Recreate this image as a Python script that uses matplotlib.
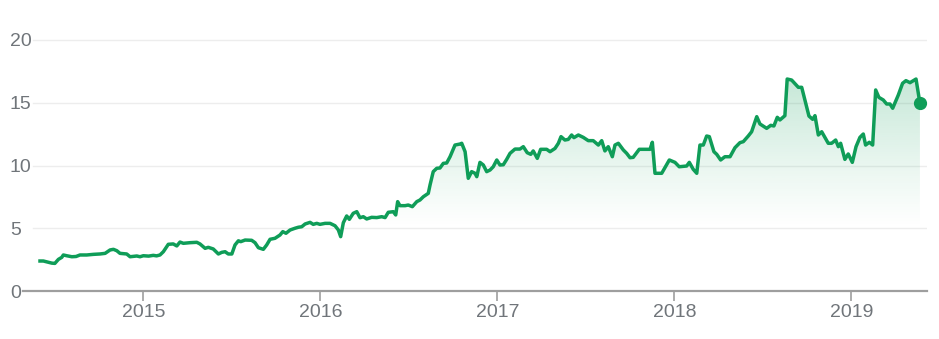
import matplotlib
matplotlib.use("Agg")
import matplotlib.pyplot as plt
import numpy as np
from matplotlib.colors import to_rgb
from matplotlib.patches import Polygon

# price history (decimal year, price)
years = [
    2014.416, 2014.435, 2014.483, 2014.500, 2014.520, 2014.539, 2014.548, 2014.567,
    2014.596, 2014.620, 2014.642, 2014.680, 2014.718, 2014.755, 2014.784, 2014.812,
    2014.831, 2014.850, 2014.868, 2014.906, 2014.925, 2014.963, 2014.981, 2015.000,
    2015.030, 2015.056, 2015.075, 2015.094, 2015.113, 2015.132, 2015.141, 2015.169,
    2015.189, 2015.207, 2015.226, 2015.264, 2015.302, 2015.320, 2015.349, 2015.367,
    2015.395, 2015.424, 2015.443, 2015.462, 2015.480, 2015.500, 2015.518, 2015.537,
    2015.550, 2015.575, 2015.612, 2015.631, 2015.650, 2015.678, 2015.697, 2015.716,
    2015.744, 2015.772, 2015.788, 2015.806, 2015.829, 2015.857, 2015.876, 2015.895,
    2015.914, 2015.942, 2015.960, 2015.980, 2015.998, 2016.027, 2016.055, 2016.083,
    2016.102, 2016.115, 2016.130, 2016.149, 2016.164, 2016.186, 2016.206, 2016.224,
    2016.243, 2016.262, 2016.290, 2016.319, 2016.347, 2016.366, 2016.384, 2016.412,
    2016.426, 2016.437, 2016.450, 2016.479, 2016.497, 2016.520, 2016.545, 2016.563,
    2016.582, 2016.610, 2016.620, 2016.638, 2016.658, 2016.676, 2016.695, 2016.714,
    2016.733, 2016.761, 2016.789, 2016.799, 2016.818, 2016.836, 2016.855, 2016.874,
    2016.884, 2016.902, 2016.921, 2016.940, 2016.959, 2016.977, 2016.997, 2017.015,
    2017.034, 2017.053, 2017.072, 2017.100, 2017.128, 2017.147, 2017.169, 2017.189,
    2017.203, 2017.226, 2017.245, 2017.279, 2017.298, 2017.326, 2017.345, 2017.360,
    2017.382, 2017.401, 2017.420, 2017.433, 2017.458, 2017.486, 2017.514, 2017.542,
    2017.571, 2017.590, 2017.608, 2017.627, 2017.650, 2017.665, 2017.684, 2017.712,
    2017.731, 2017.750, 2017.768, 2017.802, 2017.844, 2017.863, 2017.876, 2017.891,
    2017.929, 2017.972, 2018.004, 2018.028, 2018.070, 2018.085, 2018.107, 2018.127,
    2018.145, 2018.164, 2018.183, 2018.198, 2018.224, 2018.240, 2018.262, 2018.286,
    2018.315, 2018.343, 2018.371, 2018.390, 2018.418, 2018.437, 2018.466, 2018.484,
    2018.522, 2018.545, 2018.563, 2018.582, 2018.597, 2018.625, 2018.638, 2018.663,
    2018.701, 2018.720, 2018.738, 2018.761, 2018.782, 2018.795, 2018.814, 2018.833,
    2018.870, 2018.889, 2018.912, 2018.927, 2018.940, 2018.964, 2018.983, 2019.006,
    2019.027, 2019.049, 2019.068, 2019.081, 2019.102, 2019.121, 2019.138, 2019.156,
    2019.181, 2019.200, 2019.219, 2019.234, 2019.266, 2019.290, 2019.309, 2019.332,
    2019.366, 2019.388,
]
prices = [
    2.39, 2.39, 2.22, 2.20, 2.52, 2.68, 2.87, 2.81,
    2.73, 2.75, 2.87, 2.87, 2.92, 2.95, 3.00, 3.27,
    3.32, 3.21, 3.00, 2.95, 2.73, 2.79, 2.73, 2.81,
    2.78, 2.84, 2.80, 2.87, 3.13, 3.53, 3.72, 3.75,
    3.59, 3.90, 3.80, 3.85, 3.88, 3.75, 3.40, 3.48,
    3.35, 2.95, 3.08, 3.13, 2.95, 2.95, 3.67, 4.00,
    3.93, 4.06, 4.04, 3.85, 3.45, 3.32, 3.67, 4.12,
    4.20, 4.46, 4.73, 4.60, 4.86, 5.00, 5.08, 5.12,
    5.34, 5.47, 5.31, 5.39, 5.31, 5.39, 5.39, 5.20,
    4.86, 4.33, 5.44, 5.98, 5.71, 6.19, 6.32, 5.84,
    5.92, 5.74, 5.87, 5.85, 5.92, 5.85, 6.27, 6.32,
    6.06, 7.12, 6.80, 6.80, 6.85, 6.72, 7.12, 7.25,
    7.51, 7.78, 8.45, 9.51, 9.78, 9.80, 10.17, 10.20,
    10.70, 11.63, 11.71, 11.77, 11.10, 8.98, 9.51, 9.38,
    9.11, 10.25, 10.04, 9.51, 9.64, 9.90, 10.44, 10.04,
    10.06, 10.49, 10.97, 11.31, 11.31, 11.50, 11.02, 10.89,
    11.16, 10.57, 11.29, 11.29, 11.10, 11.36, 11.77, 12.30,
    12.03, 12.08, 12.43, 12.22, 12.43, 12.24, 11.98, 11.98,
    11.63, 11.98, 11.16, 11.50, 10.70, 11.63, 11.77, 11.24,
    10.97, 10.62, 10.65, 11.29, 11.29, 11.29, 11.85, 9.38,
    9.38, 10.44, 10.25, 9.90, 9.96, 10.25, 9.70, 9.38,
    11.63, 11.63, 12.35, 12.30, 11.10, 10.89, 10.44, 10.70,
    10.70, 11.42, 11.82, 11.90, 12.35, 12.69, 13.89, 13.31,
    12.96, 13.20, 13.15, 13.84, 13.63, 13.97, 16.89, 16.81,
    16.23, 16.23, 15.22, 13.94, 13.68, 13.97, 12.43, 12.69,
    11.77, 11.77, 12.03, 11.50, 11.77, 10.49, 10.92, 10.25,
    11.50, 12.24, 12.51, 11.63, 11.85, 11.63, 16.02, 15.43,
    15.22, 14.90, 14.90, 14.56, 15.62, 16.55, 16.76, 16.60,
    16.89, 14.96,
]
year_ticks = [2015, 2016, 2017, 2018, 2019]
price_ticks = [0, 5, 10, 15, 20]

GREEN = "#0f9d58"
GRID = "#ededed"
AXIS = "#9e9e9e"
LABEL = "#70757a"

plt.rcParams["font.family"] = ["Liberation Sans", "DejaVu Sans"]

fig = plt.figure(figsize=(9.39, 3.39), dpi=100)
ax = fig.add_axes([23 / 939, 48 / 339, 904 / 939, 263.55 / 339])
ax.set_xlim(2014.320, 2019.428)
ax.set_ylim(0, 21)

for v in price_ticks[1:]:
    ax.axhline(v, xmin=0.011, xmax=1, color=GRID, lw=1.0, zorder=0)

# gradient fill under the line
x = np.array(years)
y = np.array(prices)
poly = Polygon(np.column_stack([np.r_[x[0], x, x[-1]], np.r_[0, y, 0]]),
               closed=True, facecolor="none", edgecolor="none")
ax.add_patch(poly)
r, g, b = to_rgb(GREEN)
ramp = np.linspace(0, 1, 256)[:, None]
alpha = np.clip((ramp * 21 - 5.0) / (17.0 - 5.0), 0, 1) ** 1.1 * 0.24
img = np.zeros((256, 1, 4))
img[..., 0], img[..., 1], img[..., 2] = r, g, b
img[..., 3] = alpha
im = ax.imshow(img, extent=[x[0], x[-1], 0, 21], origin="lower",
               aspect="auto", zorder=1, interpolation="bilinear")
im.set_clip_path(poly)

ax.plot(x, y, color=GREEN, lw=2.5, solid_joinstyle="round", zorder=3)
ax.plot(x[-1], y[-1], "o", color=GREEN, ms=8.5, zorder=4)

for s in ["top", "right", "left"]:
    ax.spines[s].set_visible(False)
ax.spines["bottom"].set_color(AXIS)
ax.spines["bottom"].set_linewidth(1.6)

ax.set_xticks(year_ticks)
ax.set_xticklabels([str(t) for t in year_ticks])
ax.tick_params(axis="x", length=7, width=1.2, color=AXIS, pad=2.5,
               labelsize=14, labelcolor=LABEL)
ax.set_yticks(price_ticks)
ax.set_yticklabels([str(t) for t in price_ticks])
ax.tick_params(axis="y", length=0, pad=9.4, labelsize=14, labelcolor=LABEL)
for lab in ax.get_yticklabels():
    lab.set_horizontalalignment("left")

fig.savefig("out.png", dpi=100)
